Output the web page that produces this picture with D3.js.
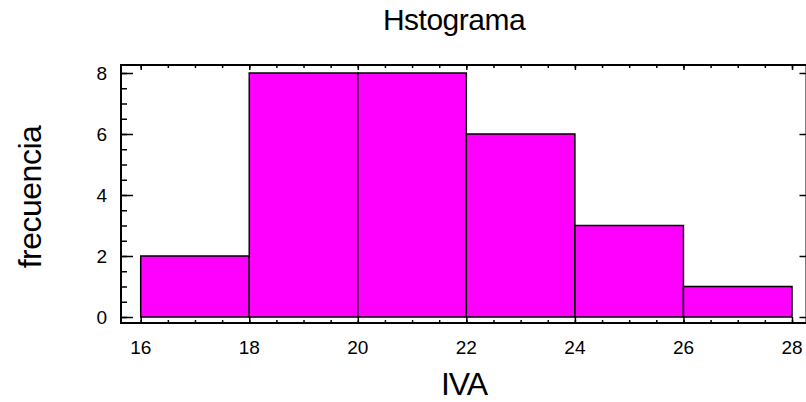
<!DOCTYPE html>
<html>
<head>
<meta charset="utf-8">
<script src="https://cdn.jsdelivr.net/npm/d3@7"></script>
<style>
  body { margin: 0; background: #fff; }
  svg { display: block; font-family: 'Liberation Sans', Arial, sans-serif; }
  .axis path { display: none; }
  .axis line { stroke: #000; stroke-width: 1.5; }
  .axis text { display: none; }
</style>
</head>
<body>
<svg id="chart" width="806" height="402"></svg>
<script>
// data
const binStart = [16, 18, 20, 22, 24, 26]
const binEnd = [18, 20, 22, 24, 26, 28]
const counts = [2, 8, 8, 6, 3, 1]
const xTicks = [16, 18, 20, 22, 24, 26, 28]
const yTicks = [0, 2, 4, 6, 8]
const title = 'Hstograma'
const xTitle = 'IVA'
const yTitle = 'frecuencia'

const svg = d3.select('#chart')

// frame of the plot
const frame = { left: 121, top: 65, right: 806.5, bottom: 323 }

const x = d3.scaleLinear().domain([16, 28]).range([140.7, 792])
const y = d3.scaleLinear().domain([0, 8]).range([317, 73])

const minorX = d3.range(15.5, 28.5, 0.5).filter(v => x(v) > frame.left && x(v) < frame.right)
const minorY = d3.range(0, 8.5, 0.5)

// bars
svg.append('g')
  .selectAll('rect')
  .data(counts)
  .join('rect')
  .attr('x', (d, i) => x(binStart[i]))
  .attr('width', (d, i) => x(binEnd[i]) - x(binStart[i]))
  .attr('y', d => y(d))
  .attr('height', d => y(0) - y(d))
  .attr('fill', '#ff00ff')
  .attr('stroke', '#000')
  .attr('stroke-width', 1.5)

// bottom ticks (pointing inward)
svg.append('g')
  .attr('class', 'axis')
  .attr('transform', 'translate(0,' + frame.bottom + ')')
  .call(d3.axisBottom(x).tickValues(minorX).tickSize(-3))
svg.append('g')
  .attr('class', 'axis')
  .attr('transform', 'translate(0,' + frame.bottom + ')')
  .call(d3.axisBottom(x).tickValues(xTicks).tickSize(-6))

// top ticks
svg.append('g')
  .attr('class', 'axis')
  .attr('transform', 'translate(0,' + frame.top + ')')
  .call(d3.axisTop(x).tickValues(minorX).tickSize(-3))
svg.append('g')
  .attr('class', 'axis')
  .attr('transform', 'translate(0,' + frame.top + ')')
  .call(d3.axisTop(x).tickValues(xTicks).tickSize(-5))

// left ticks
svg.append('g')
  .attr('class', 'axis')
  .attr('transform', 'translate(' + frame.left + ',0)')
  .call(d3.axisLeft(y).tickValues(minorY).tickSize(-6))
svg.append('g')
  .attr('class', 'axis')
  .attr('transform', 'translate(' + frame.left + ',0)')
  .call(d3.axisLeft(y).tickValues(yTicks).tickSize(-12))

// right ticks
svg.append('g')
  .attr('class', 'axis')
  .attr('transform', 'translate(' + frame.right + ',0)')
  .call(d3.axisRight(y).tickValues(yTicks).tickSize(-7))

// frame lines
svg.append('rect')
  .attr('x', frame.left)
  .attr('y', frame.top)
  .attr('width', frame.right - frame.left)
  .attr('height', frame.bottom - frame.top)
  .attr('fill', 'none')
  .attr('stroke', '#000')
  .attr('stroke-width', 2)

// tick labels
svg.append('g')
  .selectAll('text')
  .data(xTicks)
  .join('text')
  .attr('x', d => x(d))
  .attr('y', 354)
  .attr('text-anchor', 'middle')
  .attr('font-size', 19)
  .text(d => d)

svg.append('g')
  .selectAll('text')
  .data(yTicks)
  .join('text')
  .attr('x', 107)
  .attr('y', d => y(d))
  .attr('dy', '0.35em')
  .attr('text-anchor', 'end')
  .attr('font-size', 19)
  .text(d => d)

// titles
svg.append('text')
  .attr('x', 454)
  .attr('y', 30)
  .attr('text-anchor', 'middle')
  .attr('font-size', 30)
  .attr('letter-spacing', -0.5)
  .text(title)

svg.append('text')
  .attr('x', 464)
  .attr('y', 395)
  .attr('text-anchor', 'middle')
  .attr('font-size', 32)
  .attr('letter-spacing', -1)
  .text(xTitle)

svg.append('text')
  .attr('transform', 'translate(41,197) rotate(-90)')
  .attr('text-anchor', 'middle')
  .attr('font-size', 32)
  .attr('letter-spacing', -0.5)
  .text(yTitle)
</script>
</body>
</html>
